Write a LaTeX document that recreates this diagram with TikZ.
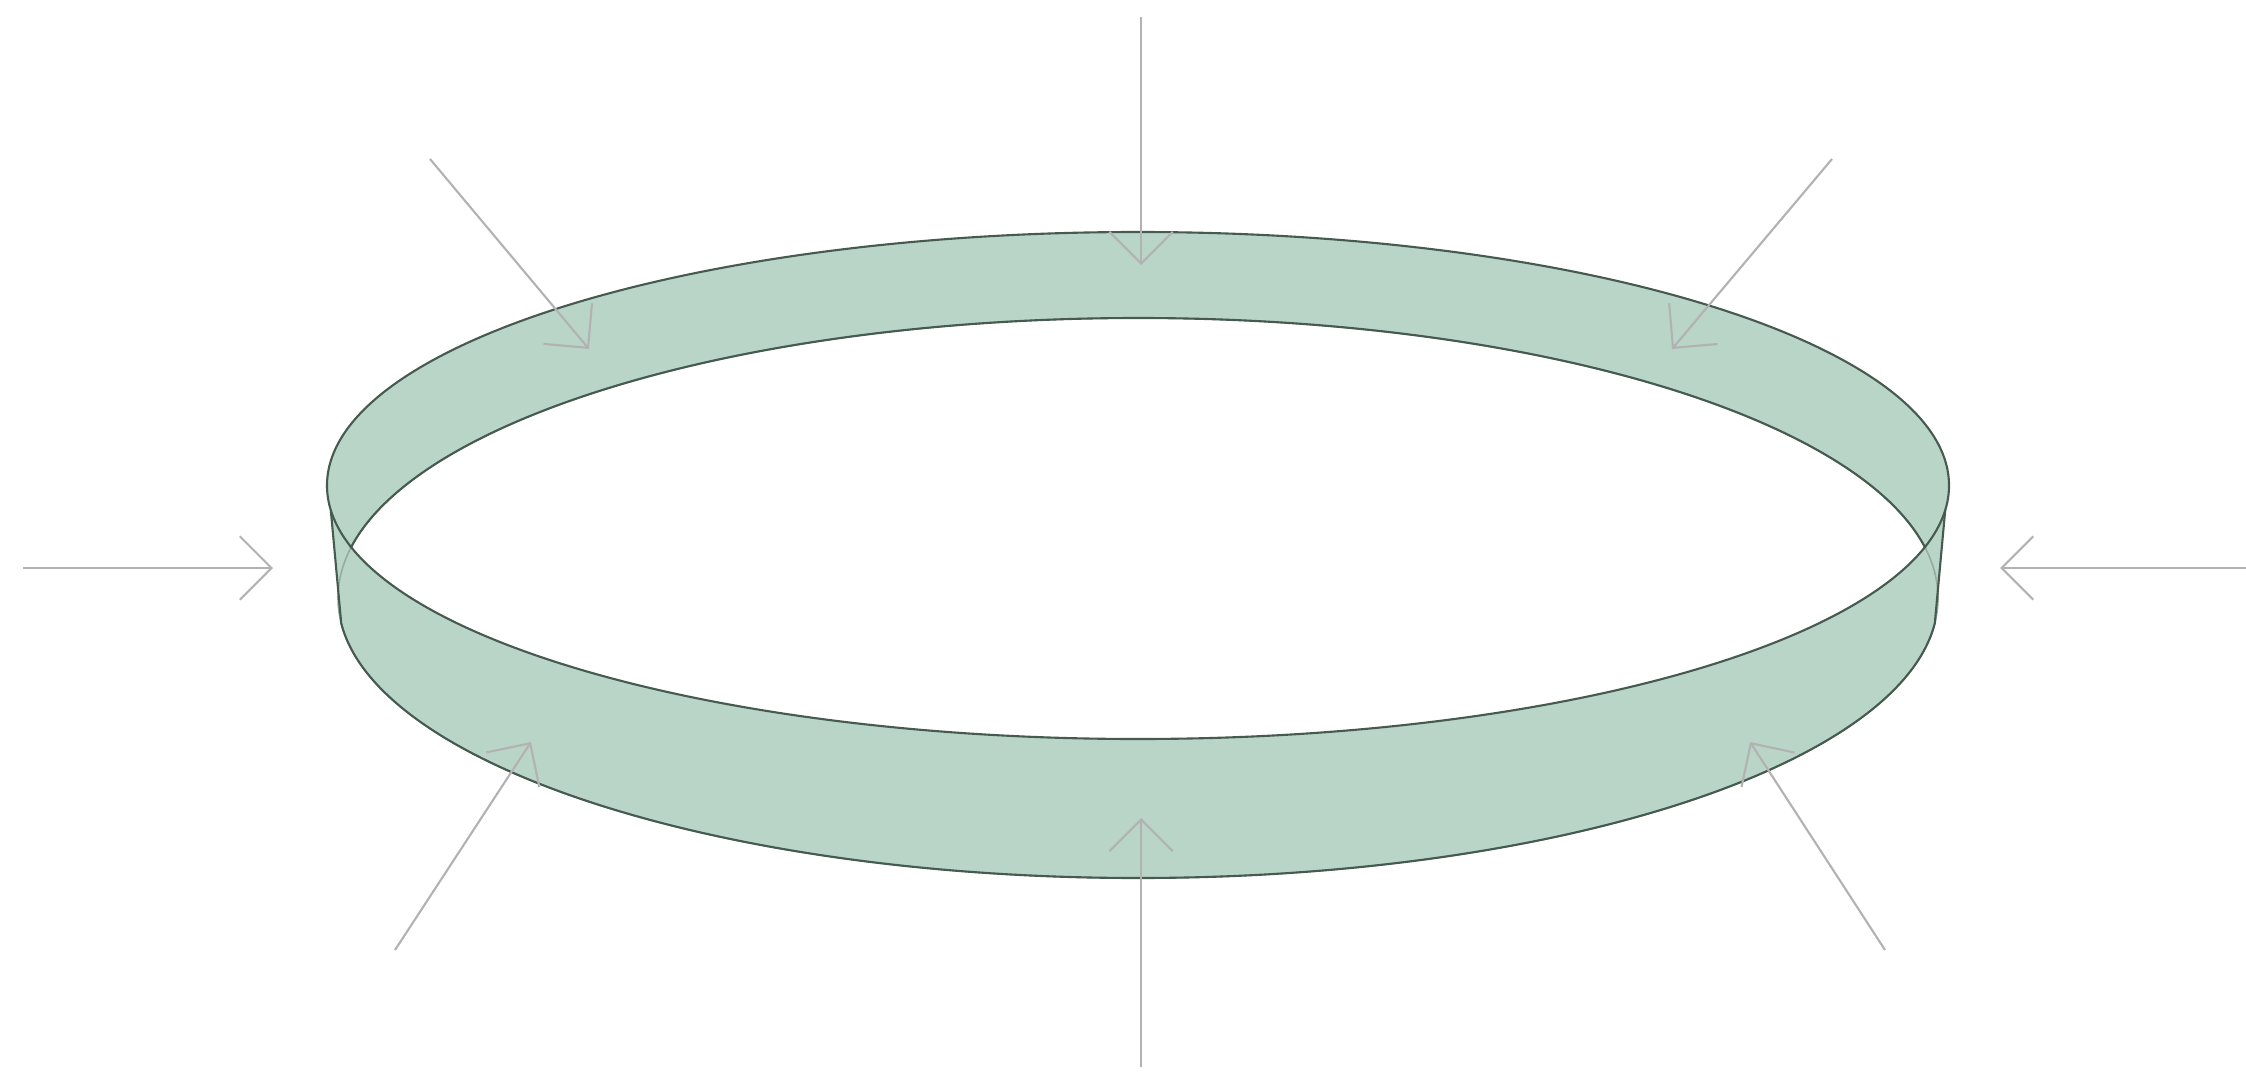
\documentclass[tikz,border=0pt]{standalone}
\usetikzlibrary{arrows.meta}

\definecolor{bandgreen}{RGB}{185,213,200}
\definecolor{rimline}{RGB}{70,90,80}
\definecolor{hiddenline}{RGB}{150,172,161}
\definecolor{pushgray}{RGB}{178,178,178}

\begin{document}
\begin{tikzpicture}[
    x=0.01cm, y=-0.01cm,
    rim/.style={draw=rimline, line width=0.6pt},
    hidden/.style={draw=hiddenline, line width=0.45pt},
    topring/.style={x radius=811, y radius=253.5},
    botring/.style={x radius=800, y radius=280},
    push/.style={-{Straight Barb[length=9pt, width=18pt]}, draw=pushgray, line width=0.6pt}
    ]

    \useasboundingbox (0,0) rectangle (2246,1079);

    \coordinate (T) at (1138,485.5);
    \coordinate (B) at (1138,598);
    \path (T) ++(174.5:811 and 253.5) coordinate (TL);
    \path (T) ++(5.5:811 and 253.5) coordinate (TR);
    \path (B) ++(174.9:800 and 280) coordinate (BL);
    \path (B) ++(5.1:800 and 280) coordinate (BR);

    \fill[bandgreen] (T) ellipse [topring];
    \fill[bandgreen] (B) ellipse [botring];
    \fill[bandgreen] (TL) -- (TR) -- (BR) -- (BL) -- cycle;
    \begin{scope}
        \clip (T) ellipse [topring];
        \fill[white] (B) ellipse [botring];
    \end{scope}

    \draw[hidden] (B) ellipse [botring];
    \begin{scope}
        \clip (0,0) rectangle (2246,547);
        \draw[rim] (B) ellipse [botring];
    \end{scope}
    \begin{scope}
        \clip (0,623) rectangle (2246,1079);
        \draw[rim] (B) ellipse [botring];
    \end{scope}
    \draw[rim] (T) ellipse [topring];
    \draw[rim] (TL) -- (BL);
    \draw[rim] (TR) -- (BR);

    \coordinate (N) at (1141,17);     \coordinate (Ntip) at (1141,265);
    \coordinate (S) at (1141,1067);   \coordinate (Stip) at (1141,818);
    \coordinate (W) at (23,568);      \coordinate (Wtip) at (273,568);
    \coordinate (E) at (2246,568);    \coordinate (Etip) at (2000,568);
    \coordinate (NW) at (430,159);    \coordinate (NWtip) at (589,349);
    \coordinate (NE) at (1832,159);   \coordinate (NEtip) at (1672,349);
    \coordinate (SW) at (395,950);    \coordinate (SWtip) at (531,742);
    \coordinate (SE) at (1885,950);   \coordinate (SEtip) at (1750,742);

    \draw[push] (N) -- (Ntip);
    \draw[push] (S) -- (Stip);
    \draw[push] (W) -- (Wtip);
    \draw[push] (E) -- (Etip);
    \draw[push] (NW) -- (NWtip);
    \draw[push] (NE) -- (NEtip);
    \draw[push] (SW) -- (SWtip);
    \draw[push] (SE) -- (SEtip);

\end{tikzpicture}
\end{document}
